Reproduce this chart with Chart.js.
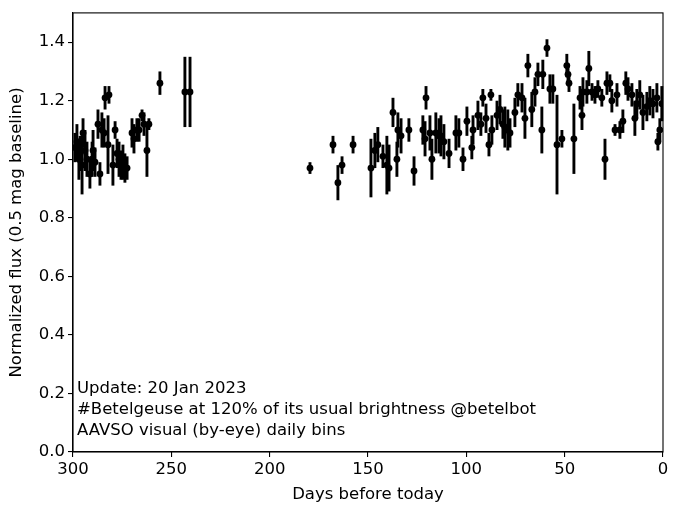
<!DOCTYPE html>
<html>
<head>
<meta charset="utf-8">
<script src="https://cdn.jsdelivr.net/npm/chart.js@4"></script>
<style>
  body { margin: 0; background: #fff; }
  #wrap { width: 680px; height: 515px; position: relative; }
</style>
</head>
<body>
<div id="wrap"><canvas id="fluxChart"></canvas></div>
<script>
// Days before today
const days = [
    299.0, 298.0, 297.0, 296.4, 295.4, 294.9, 293.9, 292.9, 291.4, 290.3,
    289.8, 288.8, 287.3, 286.3, 285.3, 284.2, 283.7, 282.2, 281.7, 279.7,
    278.6, 277.6, 276.6, 275.6, 274.6, 273.6, 272.5, 270.0, 269.0, 267.5,
    266.4, 264.9, 263.9, 262.4, 261.4, 255.8, 243.1, 240.5,
    179.5, 167.8, 165.3, 163.2, 157.6, 148.5, 146.5, 145.0, 142.4, 140.4,
    139.3, 137.3, 135.3, 134.8, 133.2, 129.2, 126.6, 122.1, 120.5, 121.0,
    118.5, 117.5, 115.5, 113.9, 112.9, 111.4, 108.8, 105.3, 103.8, 101.7,
    99.7, 97.2, 96.6, 94.1, 92.6, 91.6, 90.0, 88.5, 87.5, 87.0,
    84.4, 82.9, 81.4, 80.4, 78.9, 77.8, 75.3, 73.8, 71.7, 70.2,
    68.7, 66.7, 65.1, 63.6, 61.6, 61.1, 59.0, 57.5, 56.0, 53.9,
    51.4, 48.9, 48.3, 47.8, 45.3, 42.2, 41.2, 40.7, 38.7, 37.7,
    36.1, 34.6, 33.1, 31.1, 29.5, 28.5, 27.0, 26.0, 24.4, 23.4,
    21.9, 20.4, 18.9, 17.8, 15.8, 14.3, 13.3, 11.8, 10.2, 8.2,
    6.7, 5.1, 3.1, 2.6, 1.6, 0.6
];

// Normalized flux
const flux = [
    1.04, 1.06, 1.00, 1.02, 0.98, 1.09, 1.03, 1.00, 0.95, 1.00,
    1.03, 0.99, 1.12, 0.95, 1.10, 1.09, 1.21, 1.05, 1.22, 0.98,
    1.10, 1.02, 1.00, 0.98, 0.99, 0.97, 0.97, 1.09, 1.07, 1.10,
    1.10, 1.15, 1.12, 1.03, 1.12, 1.26, 1.23, 1.23,
    0.97, 1.05, 0.92, 0.98, 1.05, 0.97, 1.03, 1.05, 1.01, 0.98,
    0.97, 1.16, 1.00, 1.10, 1.08, 1.10, 0.96, 1.10, 1.21, 1.07,
    1.09, 1.00, 1.09, 1.08, 1.08, 1.06, 1.02, 1.09, 1.09, 1.00,
    1.13, 1.04, 1.10, 1.15, 1.12, 1.21, 1.14, 1.05, 1.22, 1.10,
    1.15, 1.17, 1.12, 1.11, 1.10, 1.09, 1.16, 1.22, 1.21, 1.14,
    1.32, 1.17, 1.23, 1.29, 1.10, 1.29, 1.38, 1.24, 1.24, 1.05,
    1.07, 1.32, 1.29, 1.26, 1.07, 1.21, 1.15, 1.23, 1.23, 1.31,
    1.23, 1.22, 1.24, 1.21, 1.00, 1.26, 1.26, 1.20, 1.10, 1.22,
    1.10, 1.13, 1.26, 1.24, 1.22, 1.14, 1.19, 1.22, 1.16, 1.18,
    1.20, 1.19, 1.21, 1.06, 1.10, 1.19
];

// Error bar half-lengths
const fluxErr = [
    0.05, 0.06, 0.07, 0.06, 0.10, 0.05, 0.07, 0.06, 0.05, 0.06,
    0.07, 0.05, 0.05, 0.04, 0.06, 0.05, 0.04, 0.10, 0.03, 0.07,
    0.03, 0.05, 0.06, 0.05, 0.06, 0.05, 0.04, 0.05, 0.05, 0.04,
    0.04, 0.02, 0.04, 0.09, 0.02, 0.04, 0.12, 0.12,
    0.02, 0.03, 0.06, 0.03, 0.03, 0.10, 0.06, 0.06, 0.04, 0.10,
    0.08, 0.05, 0.06, 0.06, 0.06, 0.04, 0.05, 0.05, 0.04, 0.06,
    0.06, 0.07, 0.07, 0.06, 0.07, 0.06, 0.05, 0.06, 0.05, 0.04,
    0.05, 0.04, 0.05, 0.05, 0.04, 0.03, 0.05, 0.04, 0.02, 0.05,
    0.05, 0.05, 0.05, 0.07, 0.07, 0.05, 0.05, 0.04, 0.05, 0.07,
    0.04, 0.06, 0.05, 0.04, 0.08, 0.05, 0.03, 0.05, 0.05, 0.17,
    0.03, 0.04, 0.03, 0.03, 0.12, 0.04, 0.05, 0.05, 0.04, 0.06,
    0.03, 0.03, 0.03, 0.03, 0.07, 0.04, 0.03, 0.04, 0.02, 0.04,
    0.03, 0.04, 0.04, 0.04, 0.04, 0.06, 0.05, 0.05, 0.06, 0.05,
    0.05, 0.05, 0.05, 0.03, 0.04, 0.06
];

const noteLines = [
    "Update: 20 Jan 2023",
    "#Betelgeuse at 120% of its usual brightness @betelbot",
    "AAVSO visual (by-eye) daily bins"
];

const FONT = "'DejaVu Sans', sans-serif";
const FONT_SIZE = 16.5;

// Draws vertical error bars under the points, using the chart's scales
const errorBarPlugin = {
    id: "errorBars",
    beforeDatasetsDraw(chart) {
        const { ctx, scales: { x, y } } = chart;
        ctx.save();
        ctx.strokeStyle = "#000";
        ctx.lineWidth = 2.9;
        days.forEach((d, i) => {
            const px = x.getPixelForValue(d);
            ctx.beginPath();
            ctx.moveTo(px, y.getPixelForValue(flux[i] - fluxErr[i]));
            ctx.lineTo(px, y.getPixelForValue(flux[i] + fluxErr[i]));
            ctx.stroke();
        });
        ctx.restore();
    }
};

// Full box frame plus the text note in the lower left corner
const framePlugin = {
    id: "frameAndNote",
    afterDraw(chart) {
        const { ctx, chartArea: a } = chart;
        ctx.save();
        ctx.strokeStyle = "#000";
        ctx.lineWidth = 1.1;
        ctx.strokeRect(a.left, a.top, a.right - a.left, a.bottom - a.top);
        ctx.fillStyle = "#000";
        ctx.font = `${FONT_SIZE}px ${FONT}`;
        ctx.textBaseline = "middle";
        ctx.textAlign = "left";
        noteLines.forEach((line, i) => {
            ctx.fillText(line, a.left + 4, a.bottom - 21 - (noteLines.length - 1 - i) * 21);
        });
        ctx.restore();
    }
};

const ctx = document.getElementById("fluxChart").getContext("2d");
new Chart(ctx, {
    type: "scatter",
    data: {
        datasets: [{
            data: days.map((d, i) => ({ x: d, y: flux[i] })),
            backgroundColor: "#000",
            borderColor: "#000",
            pointRadius: 3.4,
            pointHoverRadius: 3.4,
            borderWidth: 0
        }]
    },
    options: {
        responsive: true,
        maintainAspectRatio: false,
        animation: false,
        events: [],
        layout: { padding: { top: 12, right: 17, left: 0, bottom: 0 } },
        plugins: {
            legend: { display: false },
            tooltip: { enabled: false }
        },
        scales: {
            x: {
                type: "linear",
                reverse: true,
                min: 0,
                max: 300,
                ticks: {
                    stepSize: 50,
                    color: "#000",
                    padding: 3,
                    maxRotation: 0,
                    font: { family: FONT, size: FONT_SIZE }
                },
                grid: { drawOnChartArea: false, drawTicks: true, tickLength: 5, color: "#000", lineWidth: 1.1 },
                border: { display: true, color: "#000", width: 1.1 },
                title: {
                    display: true,
                    text: "Days before today",
                    color: "#000",
                    padding: { top: 2, bottom: 10 },
                    font: { family: FONT, size: FONT_SIZE }
                },
                afterFit(scale) { scale.height = 63; }
            },
            y: {
                type: "linear",
                min: 0,
                max: 1.5,
                afterBuildTicks(scale) {
                    scale.ticks = scale.ticks.filter(t => t.value <= 1.41);
                },
                ticks: {
                    stepSize: 0.2,
                    color: "#000",
                    padding: 3,
                    font: { family: FONT, size: FONT_SIZE },
                    callback: (v) => v.toFixed(1)
                },
                grid: { drawOnChartArea: false, drawTicks: true, tickLength: 5, color: "#000", lineWidth: 1.1 },
                border: { display: true, color: "#000", width: 1.1 },
                title: {
                    display: true,
                    text: "Normalized flux (0.5 mag baseline)",
                    color: "#000",
                    padding: { top: 7, bottom: 2 },
                    font: { family: FONT, size: FONT_SIZE }
                },
                afterFit(scale) { scale.width = 73; }
            }
        }
    },
    plugins: [errorBarPlugin, framePlugin]
});
</script>
</body>
</html>
